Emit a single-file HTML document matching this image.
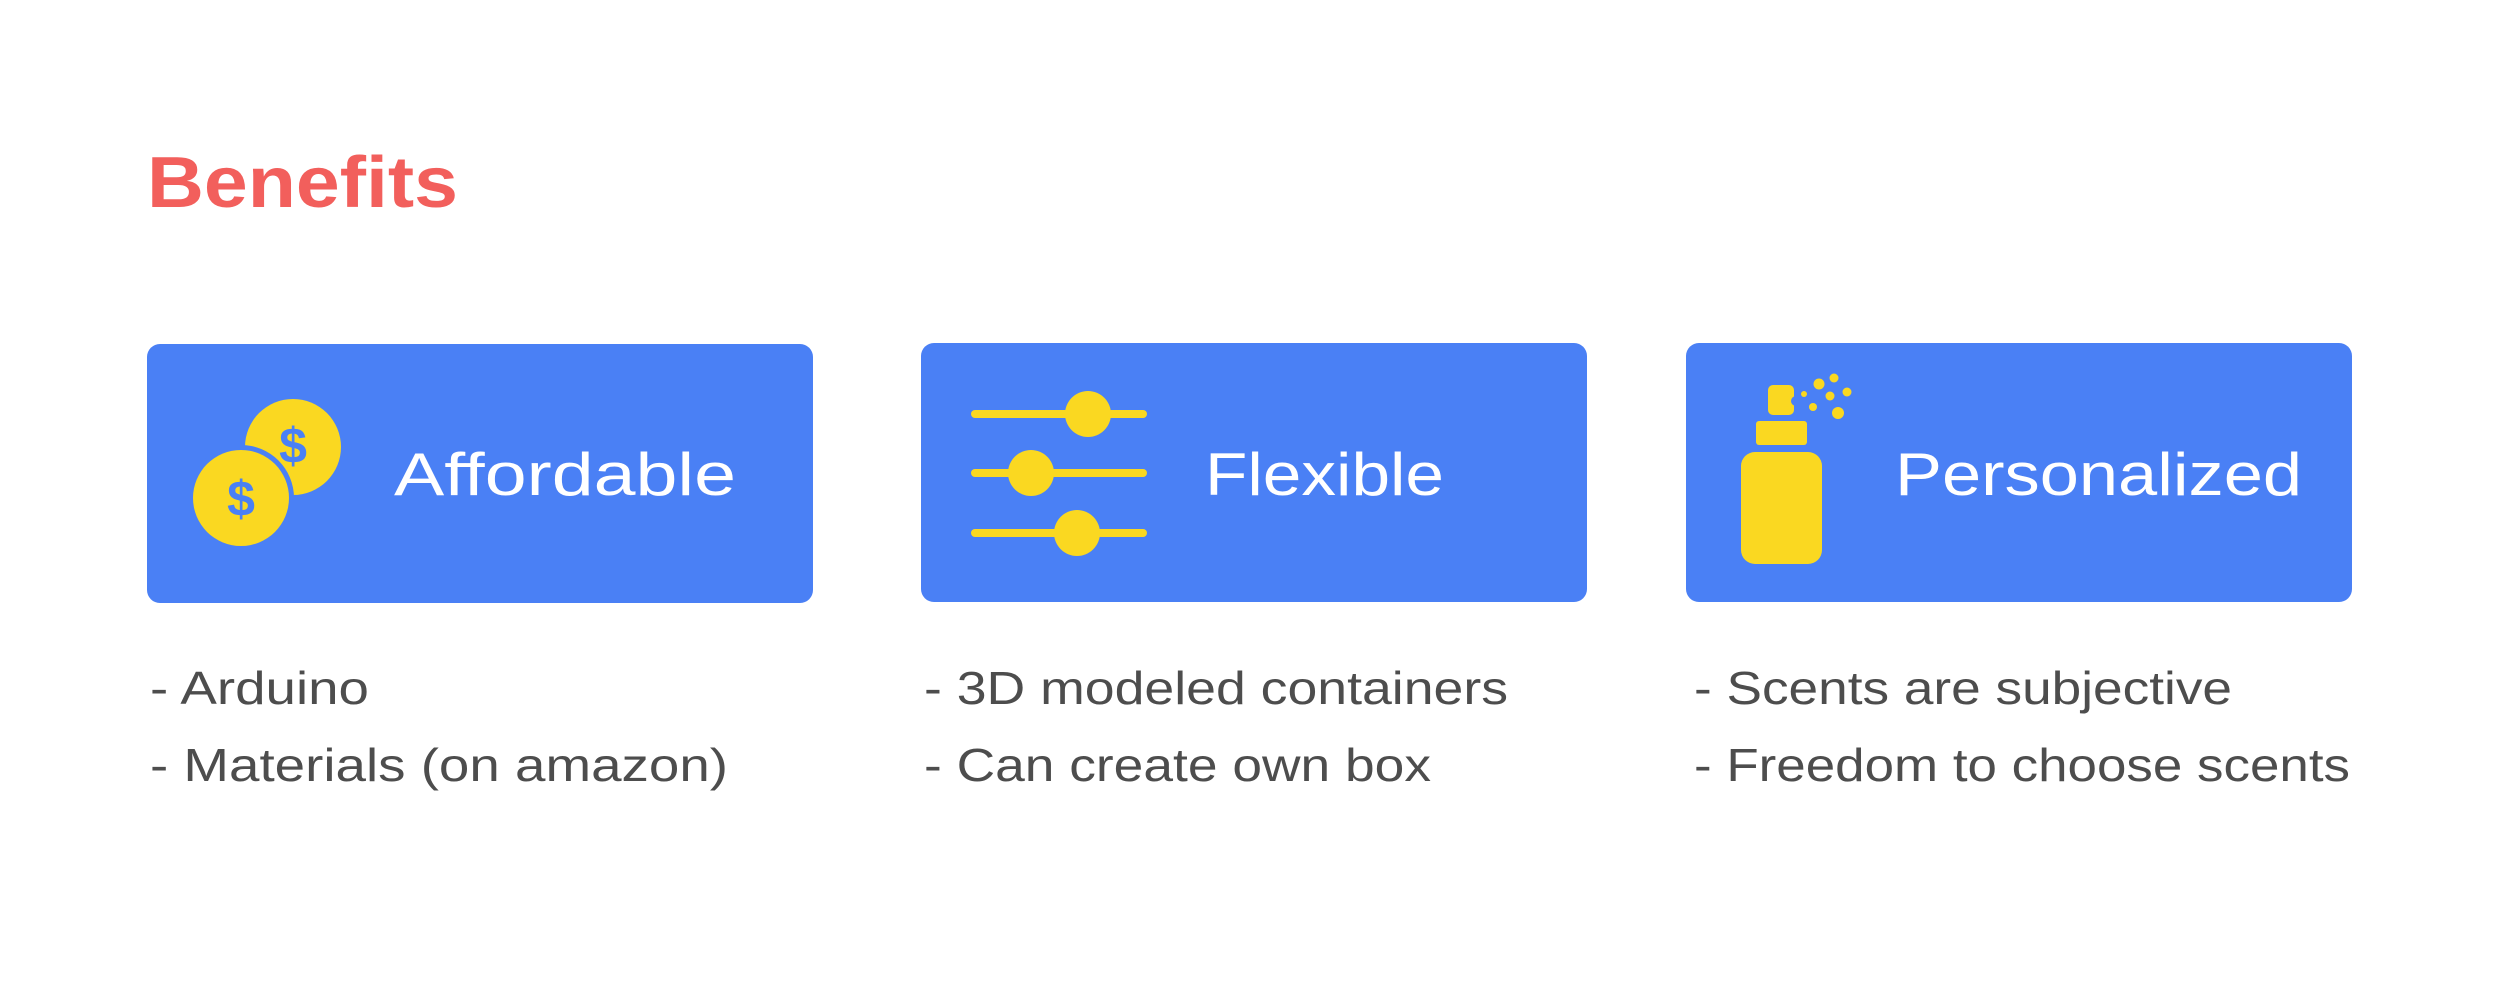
<!DOCTYPE html>
<html><head><meta charset="utf-8"><style>html,body{margin:0;padding:0;background:#fff;}svg{display:block}</style></head>
<body>
<svg width="2499" height="1007" viewBox="0 0 2499 1007" xmlns="http://www.w3.org/2000/svg" font-family="Liberation Sans, sans-serif">
<rect width="2499" height="1007" fill="#fff"/>
<text x="147" y="207" font-size="72" font-weight="bold" fill="#f25f5c" textLength="311" lengthAdjust="spacingAndGlyphs">Benefits</text>

<rect x="147" y="344" width="666" height="259" rx="13" fill="#4a80f5"/>
<rect x="921" y="343" width="666" height="259" rx="13" fill="#4a80f5"/>
<rect x="1686" y="343" width="666" height="259" rx="13" fill="#4a80f5"/>

<!-- coins -->
<circle cx="293" cy="447" r="48" fill="#fad821"/>
<circle cx="241" cy="498" r="53" fill="#4a80f5"/>
<circle cx="241" cy="498" r="48" fill="#fad821"/>
<text x="293" y="463" font-size="50" font-weight="bold" fill="#4a80f5" text-anchor="middle">$</text>
<text x="241" y="516" font-size="50" font-weight="bold" fill="#4a80f5" text-anchor="middle">$</text>
<text x="394" y="495" font-size="60" fill="#fff" textLength="342" lengthAdjust="spacingAndGlyphs">Affordable</text>

<!-- sliders -->
<g stroke="#fad821" stroke-width="8" stroke-linecap="round">
<line x1="975" y1="414" x2="1143" y2="414"/>
<line x1="975" y1="473" x2="1143" y2="473"/>
<line x1="975" y1="533" x2="1143" y2="533"/>
</g>
<g fill="#fad821">
<circle cx="1088" cy="414" r="23"/>
<circle cx="1031" cy="473" r="23"/>
<circle cx="1077" cy="533" r="23"/>
</g>
<text x="1205" y="495" font-size="60" fill="#fff" textLength="239" lengthAdjust="spacingAndGlyphs">Flexible</text>

<!-- bottle -->
<g fill="#fad821">
<rect x="1741" y="452" width="81" height="112" rx="14"/>
<rect x="1756" y="421" width="51" height="24" rx="3"/>
<rect x="1768" y="385" width="26" height="30" rx="5"/>
<circle cx="1804" cy="394" r="3"/>
<circle cx="1819" cy="384" r="5.5"/>
<circle cx="1834" cy="378" r="4.5"/>
<circle cx="1830" cy="396" r="4.5"/>
<circle cx="1847" cy="392" r="4.5"/>
<circle cx="1813" cy="407" r="4"/>
<circle cx="1838" cy="413" r="6"/>
</g>
<circle cx="1796" cy="401" r="5" fill="#4a80f5"/>
<text x="1895" y="495" font-size="60" fill="#fff" textLength="407" lengthAdjust="spacingAndGlyphs">Personalized</text>

<g font-size="46" fill="#4d4d4d">
<text x="150" y="704" textLength="219" lengthAdjust="spacingAndGlyphs">- Arduino</text>
<text x="150" y="781" textLength="578" lengthAdjust="spacingAndGlyphs">- Materials (on amazon)</text>
<text x="924" y="704" textLength="584" lengthAdjust="spacingAndGlyphs">- 3D modeled containers</text>
<text x="924" y="781" textLength="507" lengthAdjust="spacingAndGlyphs">- Can create own box</text>
<text x="1694" y="704" textLength="538" lengthAdjust="spacingAndGlyphs">- Scents are subjective</text>
<text x="1694" y="781" textLength="656" lengthAdjust="spacingAndGlyphs">- Freedom to choose scents</text>
</g>
</svg>
</body></html>
